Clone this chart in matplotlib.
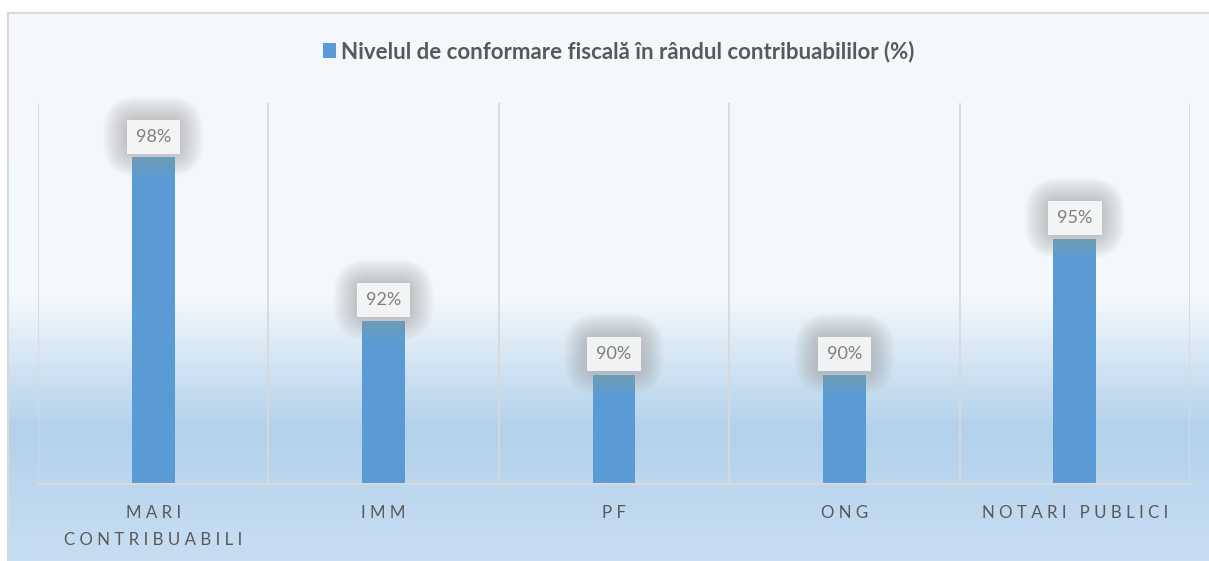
import numpy as np
import matplotlib
matplotlib.use("Agg")
import matplotlib.pyplot as plt
from matplotlib.colors import LinearSegmentedColormap

categories = ["MARI\nCONTRIBUABILI", "IMM", "PF", "ONG", "NOTARI PUBLICI"]
values = [98, 92, 90, 90, 95]
series_name = "Nivelul de conformare fiscală în rândul contribuabililor (%)"

W, H = 1209, 561
BAR_COLOR = "#5B9BD5"
GRID_COLOR = "#D9D9D9"
TEXT_COLOR = "#595959"


def spaced(label):
    # wide letter spacing like the original axis labels
    lines = []
    for line in label.split("\n"):
        words = [" ".join(w) for w in line.split(" ")]
        lines.append("   ".join(words))
    return "\n".join(lines)


def main():
    plt.rcParams["font.family"] = ["Lato", "DejaVu Sans"]
    fig = plt.figure(figsize=(W / 100, H / 100), dpi=100)

    # background with vertical gradient
    bg = fig.add_axes([0, 0, 1, 1], zorder=0)
    bg.set_xlim(0, W)
    bg.set_ylim(H, 0)
    bg.axis("off")
    cmap = LinearSegmentedColormap.from_list(
        "bg", [(0.0, "#F5F9FD"), (0.52, "#F3F8FC"), (0.76, "#B3D1EB"), (1.0, "#C8DEF2")])
    grad = np.linspace(0, 1, 256).reshape(-1, 1)
    bg.imshow(grad, cmap=cmap, aspect="auto", extent=(8, W, H, 13), interpolation="bilinear")
    bg.plot([8, W], [13, 13], color=GRID_COLOR, lw=1.5)
    bg.plot([8, 8], [13, H], color=GRID_COLOR, lw=1.5)

    ax = fig.add_axes([38 / W, (H - 484) / H, 1152 / W, 381 / H], zorder=1)
    ax.set_facecolor("none")
    x = np.arange(len(categories))
    bars = ax.bar(x, values, width=0.185, color=BAR_COLOR, zorder=2, label=series_name)
    ax.set_xlim(-0.5, len(categories) - 0.5)
    ax.set_ylim(86, 100)

    for xv in np.arange(-0.5, len(categories), 1.0):
        ax.axvline(xv, color=GRID_COLOR, lw=1.3, zorder=1)

    for s in ["top", "left", "right"]:
        ax.spines[s].set_visible(False)
    ax.spines["bottom"].set_color(GRID_COLOR)
    ax.spines["bottom"].set_linewidth(1.5)
    ax.set_yticks([])
    ax.set_xticks(x)
    ax.set_xticklabels([spaced(c) for c in categories], fontsize=12.2,
                       color=TEXT_COLOR, linespacing=1.85)
    ax.tick_params(axis="x", length=0, pad=15)

    # data labels with soft glow
    glow_pads = np.linspace(1.8, 0.5, 24)
    for xi, v in zip(x, values):
        for pad in glow_pads:
            ax.annotate(f"{v}%", (xi, v), xytext=(0, 15), textcoords="offset points",
                        ha="center", va="center", fontsize=13, color="none",
                        bbox=dict(boxstyle=f"round,pad={pad:.2f},rounding_size={pad * 1.1:.2f}",
                                  fc="#A0A0A0", ec="none", alpha=0.028),
                        zorder=3)
        ax.annotate(f"{v}%", (xi, v), xytext=(0, 15), textcoords="offset points",
                    ha="center", va="center", fontsize=13, color="#7F7F7F",
                    bbox=dict(boxstyle="square,pad=0.5", fc="white", ec="none", alpha=0.82),
                    zorder=4)

    fig.legend(handles=[bars], loc="center", bbox_to_anchor=(0.512, 0.909),
               frameon=False, handlelength=0.55, handleheight=0.65, handletextpad=0.25,
               prop={"family": "Lato", "weight": "bold", "size": 16},
               labelcolor=TEXT_COLOR)

    fig.savefig("out.png", dpi=100)


if __name__ == "__main__":
    main()
